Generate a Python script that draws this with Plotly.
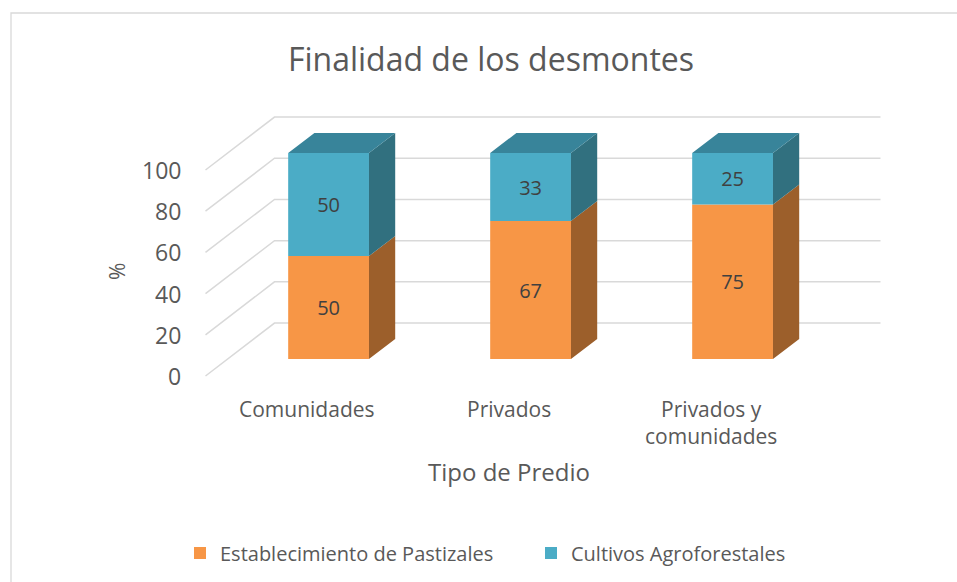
import plotly.graph_objects as go

# datos del grafico
categorias = ['Comunidades', 'Privados', 'Privados y<br>comunidades']
pastizales = [50, 67, 75]
agroforestales = [50, 33, 25]
ticks_y = [0, 20, 40, 60, 80, 100]

series = [
    ('Establecimiento de Pastizales', pastizales, '#F79646', '#9C5F2B', '#B8703A'),
    ('Cultivos Agroforestales', agroforestales, '#4BACC6', '#31707F', '#38849A'),
]

# proyeccion oblicua de la caja 3d (profundidad completa del piso = 1)
PROF_X = 0.3416
PROF_Y = 25.7
D_FRENTE = 0.32
D_FONDO = 0.70
ANCHO = 0.4

# escala de pantalla
W, H = 957, 582
X0, ESC_X = 306.5, 202.0
Y0, ESC_Y = 376.0, 2.06

GRIS = '#595959'
FUENTE = 'Open Sans'


def proyectar(x, v, d):
    return x + d * PROF_X, v + d * PROF_Y


def poligonos(lista):
    xs, ys = [], []
    for pts in lista:
        for (x, v, d) in pts + [pts[0]]:
            px, py = proyectar(x, v, d)
            xs.append(px)
            ys.append(py)
        xs.append(None)
        ys.append(None)
    return xs, ys


fig = go.Figure()

# lineas de division (piso izquierdo + pared del fondo), debajo de las barras
formas = []
for v in ticks_y:
    pts = [proyectar(x, v, d) for (x, d) in [(-0.5, 0), (-0.5, 1), (len(categorias) - 0.5, 1)]]
    camino = 'M' + ' L'.join('%f,%f' % p for p in pts)
    formas.append(dict(type='path', path=camino, xref='x', yref='y', layer='below',
                       line=dict(color='#D9D9D9', width=1.5)))

bases = [0] * len(categorias)
for k, (nombre, valores, c_frente, c_lado, c_tapa) in enumerate(series):
    lados = []
    tapas = []
    for i, val in enumerate(valores):
        v0 = bases[i]
        v1 = v0 + val
        xr = i + ANCHO / 2
        lados.append([(xr, v0, D_FRENTE), (xr, v0, D_FONDO), (xr, v1, D_FONDO), (xr, v1, D_FRENTE)])
        if k == len(series) - 1:
            xl = i - ANCHO / 2
            tapas.append([(xl, v1, D_FRENTE), (xr, v1, D_FRENTE), (xr, v1, D_FONDO), (xl, v1, D_FONDO)])
    lx, ly = poligonos(lados)
    fig.add_trace(go.Scatter(x=lx, y=ly, mode='lines', fill='toself', fillcolor=c_lado,
                             line=dict(width=0, color=c_lado), hoverinfo='skip', showlegend=False))
    if tapas:
        tx, ty = poligonos(tapas)
        fig.add_trace(go.Scatter(x=tx, y=ty, mode='lines', fill='toself', fillcolor=c_tapa,
                                 line=dict(width=0, color=c_tapa), hoverinfo='skip', showlegend=False))

    fx, fv = proyectar(0, 0, D_FRENTE)
    fig.add_trace(go.Bar(
        x=[i + fx for i in range(len(categorias))],
        y=valores,
        base=[b + fv for b in bases],
        width=ANCHO,
        name=nombre,
        marker=dict(color=c_frente, line=dict(width=0)),
        text=[str(v) for v in valores],
        textposition='inside',
        insidetextanchor='middle',
        textangle=0,
        textfont=dict(family=FUENTE, size=20, color='#404040'),
        hoverinfo='skip',
    ))
    bases = [b + v for b, v in zip(bases, valores)]

anots = []
for v in ticks_y:
    anots.append(dict(x=-0.5, y=v, xref='x', yref='y', text=str(v), showarrow=False,
                      xanchor='right', yanchor='middle', xshift=-23,
                      font=dict(family=FUENTE, size=23, color=GRIS)))
for i, cat in enumerate(categorias):
    anots.append(dict(x=i, y=0, xref='x', yref='y', text=cat, showarrow=False,
                      xanchor='center', yanchor='top', yshift=-17,
                      font=dict(family=FUENTE, size=21, color=GRIS)))
anots.append(dict(x=509 / W, y=1 - 471 / H, xref='paper', yref='paper', text='Tipo de Predio',
                  showarrow=False, xanchor='center', yanchor='middle',
                  font=dict(family=FUENTE, size=24, color=GRIS)))
anots.append(dict(x=117 / W, y=1 - 272 / H, xref='paper', yref='paper', text='%', textangle=-90,
                  showarrow=False, xanchor='center', yanchor='middle',
                  font=dict(family=FUENTE, size=21, color=GRIS)))

formas.append(dict(type='rect', xref='paper', yref='paper', x0=11 / W, y0=1 - 13 / H, x1=1.02, y1=-0.02,
                   line=dict(color='#D9D9D9', width=1.3), layer='above'))

fig.update_layout(
    width=W, height=H,
    margin=dict(l=0, r=0, t=0, b=0),
    paper_bgcolor='white', plot_bgcolor='white',
    barmode='overlay',
    title=dict(text='Finalidad de los desmontes', x=491 / W, xanchor='center',
               y=1 - 60 / H, yanchor='middle', yref='container',
               font=dict(family=FUENTE, size=32, color=GRIS)),
    xaxis=dict(range=[(0 - X0) / ESC_X, (W - X0) / ESC_X], visible=False, fixedrange=True),
    yaxis=dict(range=[(Y0 - H) / ESC_Y, Y0 / ESC_Y], visible=False, fixedrange=True),
    legend=dict(orientation='h', x=180 / W, xanchor='left', y=1 - 553 / H, yanchor='middle',
                entrywidth=306, entrywidthmode='pixels',
                font=dict(family=FUENTE, size=20, color=GRIS), bgcolor='rgba(0,0,0,0)'),
    annotations=anots,
    shapes=formas,
    showlegend=True,
)

fig.write_html('out.html', config={'displayModeBar': False},
               post_script="document.body.style.margin='0';")
